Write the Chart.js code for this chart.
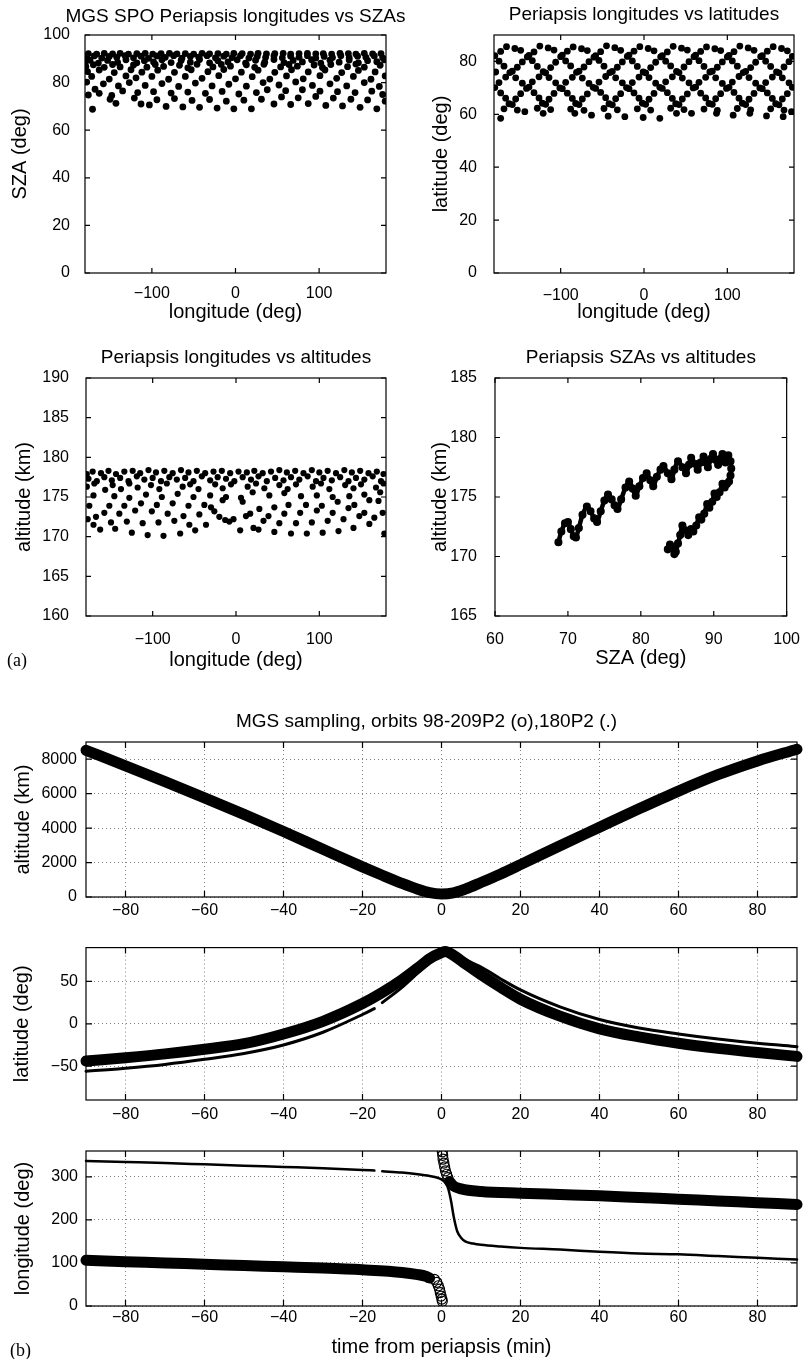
<!DOCTYPE html>
<html>
<head>
<meta charset="utf-8">
<script src="https://cdn.jsdelivr.net/npm/chart.js@4.4.1/dist/chart.umd.min.js"></script>
<style>
    html, body { margin: 0; padding: 0; background: #fff; }
    #page { position: relative; width: 806px; height: 1359px; overflow: hidden; background: #fff; }
    #page canvas { position: absolute; }
    .tag { position: absolute; font-family: "Liberation Serif", "DejaVu Serif", serif; font-size: 18px; line-height: 18px; color: #000; }
</style>
</head>
<body>
<div id="page">
    <canvas id="c1" width="420" height="330" style="left:0;top:0"></canvas>
    <canvas id="c2" width="403" height="330" style="left:403px;top:0"></canvas>
    <canvas id="c3" width="403" height="350" style="left:0;top:330px"></canvas>
    <canvas id="c4" width="403" height="350" style="left:403px;top:330px"></canvas>
    <canvas id="c5" width="806" height="240" style="left:0;top:690px"></canvas>
    <canvas id="c6" width="806" height="200" style="left:0;top:930px"></canvas>
    <canvas id="c7" width="806" height="229" style="left:0;top:1130px"></canvas>
    <div class="tag" style="left:7px;top:651px">(a)</div>
    <div class="tag" style="left:10px;top:1341px">(b)</div>
</div>
<script>
(function () {
    'use strict';

    // ---- (a) periapsis points ----
    // [longitude, SZA]
    var lonSzaPts = [
        [-171,68.8],[-143,71.3],[-113,71.0],[-103,70.6],[-83,70.0],[-63,69.8],[-43,69.6],[-22,69.3],[-2,69.0],[19,69.0],[46,71.0],[66,70.8],[87,71.2],[108,70.4],[128,70.2],[149,69.6],[169,69.0],[179,72.2],
        [-176,74.8],[-150,73.0],[-121,73.5],[-94,72.8],[-73,73.3],[-52,72.5],[-31,72.9],[-11,72.2],[10,72.6],[31,73.0],[55,74.0],[75,73.6],[96,74.2],[117,73.5],[138,73.0],[158,72.7],[176,75.0],[-163,75.5],
        [-168,77.2],[-135,76.5],[-117,75.8],[-98,76.2],[-77,75.6],[-57,76.0],[-36,75.5],[-16,76.3],[4,75.2],[25,75.8],[38,77.0],[60,76.6],[80,77.0],[101,76.4],[122,76.2],[143,75.8],[163,76.4],[-148,74.6],
        [-178,80.2],[-158,79.5],[-140,78.6],[-127,80.0],[-108,78.8],[-88,79.6],[-68,78.4],[-48,79.8],[-28,78.6],[-8,79.3],[13,78.5],[33,80.0],[52,79.0],[72,80.3],[92,78.8],[113,79.5],[133,78.6],[154,80.0],[172,78.4],
        [-172,82.6],[-151,81.5],[-131,82.8],[-119,82.0],[-100,82.6],[-80,81.4],[-60,82.6],[-40,81.8],[-20,82.9],[0,81.6],[20,82.5],[41,81.5],[61,82.8],[81,81.6],[101,82.9],[121,81.8],[141,82.6],[162,81.4],[179,82.8],
        [-177,84.6],[-163,85.3],[-145,84.2],[-125,85.4],[-112,84.4],[-93,85.2],[-73,84.3],[-53,85.4],[-33,84.6],[-14,85.5],[7,84.4],[27,85.2],[47,84.3],[67,85.4],[87,84.5],[107,85.3],[127,84.2],[147,85.1],[167,84.5],
        [-179,86.8],[-170,87.5],[-157,86.4],[-147,87.6],[-138,86.6],[-122,87.4],[-106,86.5],[-96,87.6],[-86,86.8],[-67,87.3],[-57,86.2],[-46,87.7],[-27,86.6],[-17,87.6],[-6,86.9],[13,87.5],[23,86.4],[34,87.7],[54,86.6],[64,87.6],[74,86.9],[94,87.4],[104,86.3],[114,87.6],[134,86.7],[144,87.8],[154,86.5],[173,87.3],
        [-180,88.6],[-174,89.4],[-164,88.2],[-153,89.3],[-141,88.5],[-131,89.6],[-118,88.3],[-109,89.2],[-98,88.7],[-88,89.6],[-77,88.4],[-65,89.3],[-54,88.6],[-43,89.7],[-31,88.3],[-21,89.2],[-9,88.7],[2,89.6],[12,88.2],[24,89.4],[35,88.6],[46,89.7],[58,88.4],[69,89.3],[80,88.7],[91,89.6],[102,88.2],[113,89.4],[124,88.6],[136,89.5],[147,88.3],[158,89.2],[169,88.8],[178,89.6],
        [-178,90.5],[-169,91.2],[-160,90.3],[-151,91.0],[-142,90.6],[-132,91.3],[-122,90.4],[-113,91.1],[-104,90.2],[-94,91.2],[-84,90.6],[-74,91.3],[-64,90.3],[-54,91.0],[-44,90.7],[-34,91.3],[-24,90.4],[-14,91.1],[-4,90.5],[6,91.3],[16,90.3],[26,91.0],[36,90.6],[46,91.2],[56,90.4],[66,91.1],[76,90.7],[86,91.3],[96,90.3],[106,91.0],[116,90.5],[126,91.3],[136,90.4],[146,91.1],[156,90.6],[166,91.2],[176,90.4],
        [-176,92.2],[-166,92.0],[-157,92.3],[-147,92.1],[-138,92.3],[-128,92.0],[-118,92.2],[-108,92.3],[-99,92.0],[-89,92.2],[-79,92.3],[-70,92.1],[-60,92.2],[-50,92.0],[-40,92.3],[-31,92.1],[-21,92.2],[-11,92.0],[-2,92.3],[8,92.2],[18,92.0],[27,92.3],[37,92.1],[47,92.2],[57,92.3],[66,92.0],[76,92.2],[86,92.3],[96,92.1],[105,92.2],[115,92.0],[125,92.3],[135,92.2],[144,92.0],[154,92.3],[164,92.1],[174,92.2]
    ];

    // [longitude, latitude]
    var lonLatPts = [
        [-165,85.6],[-155,84.9],[-125,85.8],[-115,85.1],[-85,85.5],[-75,84.8],[-45,85.9],[-35,85.2],[-5,85.6],[5,84.9],[35,85.7],[45,85.0],[75,85.5],[85,84.8],[115,85.8],[125,85.1],[155,85.6],[165,84.9],
        [-172,83.8],[-148,84.2],[-132,83.6],[-108,84.3],[-92,83.9],[-68,84.1],[-52,83.7],[-28,84.2],[-12,83.9],[12,84.0],[28,83.6],[52,84.3],[68,83.8],[92,84.1],[108,83.7],[132,84.2],[148,83.9],[172,84.0],
        [-179,82.2],[-140,81.7],[-138,82.3],[-100,81.8],[-98,82.4],[-60,81.6],[-58,82.2],[-20,81.9],[-18,82.4],[20,81.7],[22,82.2],[60,81.8],[62,82.4],[100,81.7],[102,82.3],[140,81.8],[142,82.2],[178,81.9],
        [-174,80.1],[-146,79.8],[-134,80.3],[-106,79.7],[-94,80.2],[-66,79.9],[-54,80.4],[-26,79.8],[-14,80.2],[14,79.7],[26,80.1],[54,79.9],[66,80.3],[94,79.8],[106,80.2],[134,79.7],[146,80.1],[174,79.9],
        [-168,78.2],[-152,77.8],[-128,78.1],[-112,77.7],[-88,78.3],[-72,77.9],[-48,78.2],[-32,77.8],[-8,78.1],[8,77.7],[32,78.3],[48,77.9],[72,78.1],[88,77.8],[112,78.2],[128,77.7],[152,78.1],[168,77.9],
        [-178,76.0],[-161,75.8],[-158,76.3],[-121,76.1],[-118,75.7],[-81,75.9],[-78,76.3],[-41,75.8],[-38,76.2],[-1,76.0],[2,75.7],[39,76.2],[42,75.8],[79,76.0],[82,76.3],[119,75.8],[122,76.2],[159,76.0],[162,75.7],
        [-166,74.1],[-154,73.8],[-126,74.2],[-114,73.9],[-86,74.0],[-74,73.7],[-46,74.3],[-34,73.8],[-6,74.1],[6,73.9],[34,74.2],[46,73.7],[74,74.0],[86,73.8],[114,74.3],[126,73.9],[154,74.1],[166,73.8],
        [-174,72.0],[-146,71.8],[-134,72.3],[-106,71.9],[-94,72.1],[-66,71.7],[-54,72.2],[-26,71.9],[-14,72.0],[14,71.8],[26,72.3],[54,71.9],[66,72.1],[94,71.7],[106,72.2],[134,71.8],[146,72.0],[174,71.9],
        [-179,70.1],[-141,69.8],[-138,70.3],[-101,70.0],[-98,69.7],[-61,70.2],[-58,69.8],[-21,70.1],[-18,69.7],[19,70.2],[22,69.8],[59,70.0],[62,70.3],[99,69.8],[102,70.2],[139,70.0],[142,69.7],[178,70.2],
        [-172,68.1],[-148,67.8],[-132,68.2],[-108,67.9],[-92,68.0],[-68,67.7],[-52,68.3],[-28,67.8],[-12,68.1],[12,67.9],[28,68.2],[52,67.7],[68,68.0],[92,67.8],[108,68.3],[132,67.9],[148,68.1],[172,67.8],
        [-166,66.1],[-154,65.8],[-126,66.2],[-114,65.7],[-86,66.0],[-74,65.8],[-46,66.3],[-34,65.9],[-6,66.1],[6,65.7],[34,66.0],[46,65.8],[74,66.2],[86,65.9],[114,66.1],[126,65.7],[154,66.0],[166,65.8],
        [-162,64.0],[-158,63.7],[-122,64.2],[-118,63.8],[-82,64.1],[-78,63.7],[-42,64.0],[-38,63.6],[-2,64.2],[2,63.8],[38,64.0],[42,63.7],[78,64.1],[82,63.8],[118,64.2],[122,63.7],[158,64.0],[162,63.6],
        [-168,62.1],[-152,61.6],[-128,62.3],[-112,61.8],[-88,62.0],[-72,61.5],[-48,62.2],[-32,61.7],[-8,62.1],[8,61.6],[32,62.3],[48,61.8],[72,62.0],[88,61.5],[112,62.2],[128,61.7],[152,62.1],[168,61.6],
        [-172,58.5],[-143,61.0],[-121,60.4],[-83,60.4],[-63,59.7],[-43,59.3],[-23,59.1],[-1,58.8],[19,58.5],[39,60.4],[57,60.4],[87,60.4],[107,59.7],[127,60.4],[147,59.4],[167,59.1],[177,61.0]
    ];

    // [longitude, altitude km]
    var lonAltPts = [
        [-178,172.2],[-171,171.5],[-163,170.9],[-145,171.0],[-125,170.5],[-106,170.2],[-87,170.1],[-67,170.4],[-49,170.8],[-13,172.1],[5,170.8],[21,171.1],[27,170.9],[46,170.6],[66,170.4],[85,170.4],[104,170.5],[123,170.7],[141,171.1],[160,171.6],[178,170.4],
        [-150,171.8],[-131,171.9],[-112,171.7],[-93,171.8],[-74,172.0],[-56,171.5],[-36,171.5],[-8,171.9],[12,172.6],[33,172.0],[52,171.7],[72,171.7],[91,171.8],[110,172.0],[129,172.2],[148,172.6],[166,172.4],[-3,172.2],
        [-168,172.5],[-158,173.0],[-140,172.9],[-121,173.3],[-101,173.2],[-82,172.9],[-63,172.6],[-44,172.8],[-26,173.2],[-20,172.5],[17,172.9],[39,172.6],[58,172.9],[77,173.0],[97,173.3],[116,173.0],[135,173.6],[154,173.0],[176,173.0],
        [-176,173.9],[-152,173.9],[-134,173.9],[-114,174.2],[-95,174.0],[-76,174.2],[-57,173.9],[-38,174.0],[-16,174.6],[-30,173.7],[8,174.4],[28,173.5],[46,173.7],[63,174.0],[84,174.0],[103,173.9],[122,174.4],[142,174.0],[160,174.6],[171,174.5],
        [-171,175.2],[-146,175.1],[-128,174.9],[-108,175.3],[-89,175.0],[-70,175.4],[-51,175.0],[-31,175.2],[-12,175.0],[6,174.9],[20,175.6],[40,175.2],[58,175.5],[78,175.1],[97,175.2],[116,175.0],[136,175.1],[154,175.3],[173,175.6],
        [-179,176.3],[-170,176.7],[-157,175.9],[-148,176.5],[-138,176.0],[-128,176.7],[-118,176.2],[-102,176.5],[-92,176.0],[-83,176.7],[-64,176.3],[-55,176.6],[-45,176.0],[-25,176.6],[-16,176.1],[-6,176.6],[14,176.3],[24,176.7],[34,176.1],[52,176.5],[62,176.0],[72,176.6],[92,176.3],[102,176.7],[112,176.0],[131,176.5],[141,176.1],[150,176.6],[168,176.2],[177,176.7],
        [-177,177.3],[-167,177.0],[-158,177.5],[-149,177.1],[-139,177.4],[-129,177.0],[-119,177.6],[-110,177.2],[-100,177.4],[-90,177.0],[-80,177.5],[-71,177.2],[-61,177.4],[-51,177.0],[-41,177.6],[-31,177.1],[-22,177.5],[-12,177.3],[-2,177.0],[8,177.5],[18,177.2],[27,177.6],[37,177.0],[47,177.4],[57,177.1],[66,177.5],[76,177.2],[86,177.6],[96,177.0],[105,177.4],[115,177.1],[125,177.5],[135,177.0],[144,177.4],[154,177.2],[164,177.6],[174,177.0],
        [-179,177.9],[-172,178.2],[-162,178.0],[-153,178.3],[-144,177.9],[-134,178.2],[-124,178.3],[-115,178.0],[-105,178.4],[-96,178.1],[-86,178.3],[-76,178.0],[-66,178.4],[-57,178.1],[-47,178.3],[-37,178.0],[-27,178.2],[-17,178.3],[-7,178.0],[3,178.2],[13,178.1],[22,178.3],[32,178.0],[42,178.2],[52,178.4],[61,178.1],[71,178.3],[81,178.0],[91,178.4],[100,178.1],[110,178.3],[120,178.0],[130,178.4],[139,178.1],[149,178.3],[159,178.0],[169,178.2],[177,177.9]
    ];

    // [SZA, altitude km] in orbit order
    var szaAltTrack = [
        [68.7,171.2],[69.1,172.1],[69.6,172.8],[70.0,172.9],[70.4,172.3],[70.8,171.7],[71.1,171.6],[71.5,172.4],[72.0,173.5],[72.6,174.2],[73.1,173.8],[73.6,173.2],[74.0,172.9],[74.5,173.8],[75.0,174.7],[75.5,175.2],[76.0,174.8],[76.4,174.3],[76.8,174.0],[77.3,174.8],[77.9,175.8],[78.4,176.3],[78.9,175.7],[79.3,175.1],[79.8,175.9],[80.3,176.6],[80.8,177.0],[81.3,176.4],[81.7,175.9],[82.2,176.7],[82.7,177.3],[83.1,177.6],[83.7,177.0],[84.2,176.5],[84.6,177.3],[85.1,178.0],[85.7,177.5],[86.2,177.0],[86.6,177.7],[86.9,178.3],[87.4,177.8],[87.8,177.3],[88.2,177.9],[88.6,178.4],[88.9,177.9],[89.2,177.5],[89.6,178.2],[89.9,178.6],[90.3,178.1],[90.6,177.7],[90.9,178.2],[91.2,178.6],[91.6,177.9],[92.0,178.5],[92.3,178.0],
        [92.4,177.4],[92.3,176.8],[92.1,176.3],[91.8,176.1],[91.5,175.8],[91.2,176.1],[90.8,175.4],[90.4,175.0],[90.1,175.3],[89.8,174.6],[89.4,174.1],[89.1,174.4],[88.7,173.6],[88.3,173.1],[88.0,173.3],[87.6,172.6],[87.2,172.1],[86.9,172.3],[86.5,171.8],[86.1,172.2],[85.7,172.6],[85.4,171.8],[85.1,171.1],[84.8,170.4],[84.6,170.2],[84.4,170.8],[84.0,171.0],[83.7,170.6]
    ];

    // ---- (b) sampling along one orbit pass, time in min from periapsis ----
    var timeAlt = [-90,-80,-70,-60,-50,-40,-30,-20,-15,-10,-6,-3,0,3,6,10,15,20,30,40,50,60,70,80,90];
    var altOrbits = [8520,7620,6700,5760,4800,3800,2770,1750,1260,790,450,250,175,240,460,840,1340,1880,2980,4050,5120,6150,7100,7900,8580];
    var alt180 = [8560,7650,6720,5790,4830,3830,2800,1780,1290,810,470,260,178,230,440,820,1310,1850,2950,4020,5090,6120,7070,7880,8560];

    var timeLatO = [-90,-80,-70,-60,-50,-40,-30,-20,-15,-10,-6,-3,0,1,3,6,10,15,20,30,40,50,60,70,80,90];
    var latOrbits = [-44,-40,-35.5,-30,-23.5,-12,3,24,37,52,66,77,84,85.5,81,71,58,43,29,9,-6,-15.5,-23,-29,-34,-38.5];
    var timeLat180 = [-90,-80,-70,-60,-50,-40,-30,-20,-17,-16.5,-15,-10,-6,-3,0,1,3,6,10,15,20,30,40,50,60,70,80,90];
    var lat180 = [-56,-52.5,-48,-42,-35,-25,-10,11,18,null,25,43,60,73,84,86,83,76,67,53,40,20,5,-5,-12,-18,-23,-27];

    var timeLonOa = [-90,-80,-70,-60,-50,-40,-30,-20,-10,-6,-4,-3];
    var lonOrbitsA = [106,103,100,97,94,91,88,84,78,73,69,65];
    var timeLonOb = [2,3,5,10,20,30,40,50,60,70,80,90];
    var lonOrbitsB = [289,279,272,266,262,259,256,252,248,244,240,236];
    var timeLonCirc = [-1.8,-1.2,-0.8,-0.5,-0.3,-0.1,0.1,0.2,0.2,0.3,0.4,0.6,0.8,1.0,1.3,1.6];
    var lonCirc = [62,55,47,39,31,23,16,11,358,350,341,332,323,314,306,298];
    var timeLon180 = [-90,-80,-70,-60,-50,-40,-30,-20,-17,-16,-15,-10,-6,-3,-1,0,1,1.5,2,2.5,3,3.5,4,5,6,8,10,15,20,30,40,50,60,70,80,90];
    var lon180 = [337,334.5,332,329,326,323,320,316,314.5,null,313,310,306,302,298,294,286,278,262,240,212,190,173,158,150,145,142,138,135,131,126,122,120,116,112,108];

    Chart.defaults.font.family = '"Liberation Sans", Arial, Helvetica, sans-serif';
    Chart.defaults.color = '#000';

    // box round the plot area plus inward tick marks on all four sides
    var frameTicks = {
        id: 'frameTicks',
        afterDatasetsDraw: function (chart, args, opts) {
            var a = chart.chartArea;
            var ctx = chart.ctx;
            var len = opts.len || 5;
            var xs = chart.scales.x;
            var ys = chart.scales.y;
            ctx.save();
            ctx.strokeStyle = '#000';
            ctx.lineWidth = 1.2;
            ctx.beginPath();
            xs.ticks.forEach(function (t) {
                var px = xs.getPixelForValue(t.value);
                ctx.moveTo(px, a.bottom); ctx.lineTo(px, a.bottom - len);
                ctx.moveTo(px, a.top); ctx.lineTo(px, a.top + len);
            });
            ys.ticks.forEach(function (t) {
                var py = ys.getPixelForValue(t.value);
                ctx.moveTo(a.left, py); ctx.lineTo(a.left + len, py);
                ctx.moveTo(a.right, py); ctx.lineTo(a.right - len, py);
            });
            ctx.stroke();
            ctx.strokeRect(a.left, a.top, a.right - a.left, a.bottom - a.top);
            ctx.restore();
        }
    };

    // panel title centred over the plot box; it may run wider than the box
    var panelTitle = {
        id: 'panelTitle',
        afterDraw: function (chart, args, opts) {
            if (!opts.text) return;
            var a = chart.chartArea;
            var ctx = chart.ctx;
            ctx.save();
            ctx.font = '19px "Liberation Sans", Arial, Helvetica, sans-serif';
            ctx.fillStyle = '#000';
            ctx.textAlign = 'center';
            ctx.textBaseline = 'middle';
            ctx.fillText(opts.text, (a.left + a.right) / 2 + (opts.dx || 0), opts.y);
            ctx.restore();
        }
    };

    function tickText(v) {
        return v < 0 ? '\u2212' + Math.abs(v) : String(v);
    }

    function axis(o) {
        return {
            type: 'linear',
            position: o.position,
            min: o.min,
            max: o.max,
            afterBuildTicks: function (ax) {
                ax.ticks = o.ticks.map(function (v) { return { value: v }; });
            },
            afterFit: function (ax) {
                if (o.position === 'left') { ax.width = o.size; } else { ax.height = o.size; }
            },
            grid: o.grid ? { display: true, drawTicks: false, color: '#808080', lineWidth: 1 } : { display: false },
            border: { display: false, dash: [1, 3] },
            ticks: { padding: o.pad, font: { size: 16 }, color: '#000', callback: tickText, maxRotation: 0, autoSkip: false },
            title: o.title ? { display: true, text: o.title, font: { size: 20 }, color: '#000', padding: o.titlePad } : { display: false }
        };
    }

    function toXY(pts) {
        return pts.map(function (p) { return { x: p[0], y: p[1] }; });
    }

    function series(xs, ys) {
        return xs.map(function (x, i) { return { x: x, y: ys[i] }; });
    }

    function dots(pts, r) {
        return { data: toXY(pts), pointRadius: r, backgroundColor: '#000', borderColor: '#000', borderWidth: 0, showLine: false };
    }

    function band(data, w) {
        return {
            data: data, showLine: true, borderColor: '#000', borderWidth: w,
            borderCapStyle: 'round', borderJoinStyle: 'round', pointRadius: 0,
            cubicInterpolationMode: 'monotone', clip: false
        };
    }

    function makeChart(id, c) {
        return new Chart(document.getElementById(id), {
            type: 'scatter',
            data: { datasets: c.datasets },
            options: {
                responsive: false,
                animation: false,
                events: [],
                layout: { padding: c.padding },
                plugins: {
                    legend: { display: false },
                    tooltip: { enabled: false },
                    title: { display: false },
                    panelTitle: { text: c.title, y: c.titleY, dx: c.titleDx },
                    frameTicks: { len: c.tickLen }
                },
                scales: { x: axis(c.x), y: axis(c.y) }
            },
            plugins: [frameTicks, panelTitle]
        });
    }

    var lonTicks = [-100, 0, 100];
    var timeTicks = [-80, -60, -40, -20, 0, 20, 40, 60, 80];

    makeChart('c1', {
        title: 'MGS SPO Periapsis longitudes vs SZAs', titleY: 17,
        padding: { left: 0, top: 35, right: 34, bottom: 0 },
        tickLen: 5,
        x: { position: 'bottom', min: -180, max: 180, ticks: lonTicks, size: 57, pad: 3, title: 'longitude (deg)', titlePad: { bottom: 6 } },
        y: { position: 'left', min: 0, max: 100, ticks: [0, 20, 40, 60, 80, 100], size: 85, pad: 7, title: 'SZA (deg)', titlePad: { top: 8 } },
        datasets: [dots(lonSzaPts, 3.4)]
    });

    makeChart('c2', {
        title: 'Periapsis longitudes vs latitudes', titleY: 15,
        padding: { left: 0, top: 35, right: 12, bottom: 0 },
        tickLen: 5,
        x: { position: 'bottom', min: -180, max: 180, ticks: lonTicks, size: 57, pad: 5, title: 'longitude (deg)', titlePad: { bottom: 6 } },
        y: { position: 'left', min: 0, max: 90, ticks: [0, 20, 40, 60, 80], size: 91, pad: 9, title: 'latitude (deg)', titlePad: { top: 26.5 } },
        datasets: [dots(lonLatPts, 3.4)]
    });

    makeChart('c3', {
        title: 'Periapsis longitudes vs altitudes', titleY: 28,
        padding: { left: 0, top: 48, right: 17, bottom: 0 },
        tickLen: 5,
        x: { position: 'bottom', min: -180, max: 180, ticks: lonTicks, size: 64, pad: 6, title: 'longitude (deg)', titlePad: { bottom: 8 } },
        y: { position: 'left', min: 160, max: 190, ticks: [160, 165, 170, 175, 180, 185, 190], size: 86, pad: 9, title: 'altitude (km)', titlePad: { top: 12 } },
        datasets: [dots(lonAltPts, 3.1)]
    });

    var track = dots(szaAltTrack, 1.8);
    track.showLine = true;
    track.borderWidth = 4.5;
    track.tension = 0.3;
    track.borderJoinStyle = 'round';

    makeChart('c4', {
        title: 'Periapsis SZAs vs altitudes', titleY: 28,
        padding: { left: 0, top: 48, right: 11, bottom: 0 },
        tickLen: 5,
        x: { position: 'bottom', min: 60, max: 100, ticks: [60, 70, 80, 90, 100], size: 64, pad: 6, title: 'SZA (deg)', titlePad: { bottom: 10 } },
        y: { position: 'left', min: 165, max: 185, ticks: [165, 170, 175, 180, 185], size: 92, pad: 10, title: 'altitude (km)', titlePad: { top: 25.5 } },
        datasets: [track]
    });

    makeChart('c5', {
        title: 'MGS sampling, orbits 98-209P2 (o),180P2 (.)', titleY: 32, titleDx: -15,
        padding: { left: 0, top: 52, right: 9, bottom: 0 },
        tickLen: 6,
        x: { position: 'bottom', min: -90, max: 90, ticks: timeTicks, size: 33, pad: 4.4, grid: true },
        y: { position: 'left', min: 0, max: 9000, ticks: [0, 2000, 4000, 6000, 8000], size: 86, pad: 9, title: 'altitude (km)', titlePad: { top: 11.5 }, grid: true },
        datasets: [band(series(timeAlt, altOrbits), 11), band(series(timeAlt, alt180), 2.5)]
    });

    makeChart('c6', {
        padding: { left: 0, top: 17, right: 9, bottom: 0 },
        tickLen: 6,
        x: { position: 'bottom', min: -90, max: 90, ticks: timeTicks, size: 30, pad: 5.4, grid: true },
        y: { position: 'left', min: -90, max: 90, ticks: [-50, 0, 50], size: 86, pad: 8, title: 'latitude (deg)', titlePad: { top: 10.5 }, grid: true },
        datasets: [band(series(timeLatO, latOrbits), 11), band(series(timeLat180, lat180), 3)]
    });

    var rings = {
        data: series(timeLonCirc, lonCirc), showLine: false, pointStyle: 'circle', pointRadius: 5,
        backgroundColor: 'rgba(0,0,0,0)', borderColor: '#000', borderWidth: 1.2
    };

    makeChart('c7', {
        padding: { left: 0, top: 21, right: 9, bottom: 0 },
        tickLen: 6,
        x: { position: 'bottom', min: -90, max: 90, ticks: timeTicks, size: 53, pad: 2, title: 'time from periapsis (min)', titlePad: { bottom: 0 }, grid: true },
        y: { position: 'left', min: 0, max: 360, ticks: [0, 100, 200, 300], size: 86, pad: 8, title: 'longitude (deg)', titlePad: { top: 11.5 }, grid: true },
        datasets: [
            band(series(timeLonOa, lonOrbitsA), 11),
            band(series(timeLonOb, lonOrbitsB), 11),
            rings,
            band(series(timeLon180, lon180), 2.5)
        ]
    });
})();
</script>
</body>
</html>
